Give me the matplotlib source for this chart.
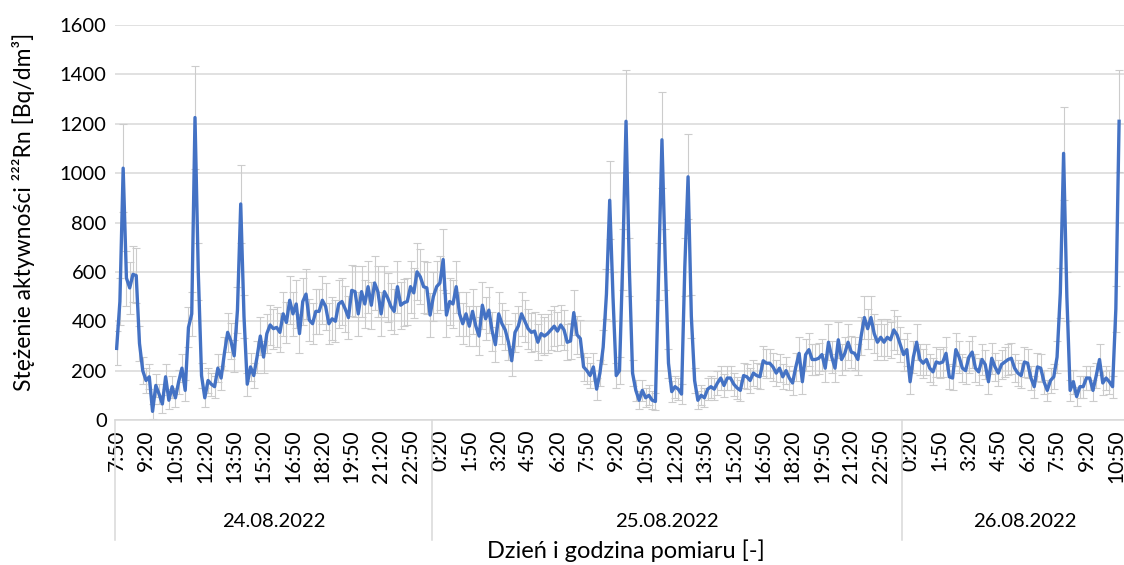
import matplotlib
matplotlib.use("Agg")
import matplotlib.pyplot as plt
from matplotlib.transforms import blended_transform_factory

plt.rcParams["font.family"] = ["Lato", "DejaVu Sans"]

# 222Rn activity concentration, 10-minute readings [Bq/dm3]
day1_vals = [290, 480, 1020, 575, 535, 590, 585, 310, 200, 160,
             175, 35, 140, 105, 65, 175, 80, 135, 90, 155,
             210, 120, 375, 430, 1225, 600, 180, 90, 160, 145,
             135, 210, 170, 270, 355, 320, 260, 445, 875, 420,
             145, 215, 180, 255, 340, 255, 350, 385, 370, 375,
             355, 430, 395, 485, 430, 470, 350, 480, 510, 405,
             390, 440, 440, 485, 460, 390, 410, 400, 470, 480,
             450, 415, 525, 520, 430, 520, 470, 540, 465, 555,
             520, 430, 520, 495, 460, 440, 540, 465, 475, 480,
             540, 515, 600, 580, 540, 535, 425]
day2_vals = [500, 540, 555, 650, 425, 480, 470, 540, 430, 390,
             430, 380, 440, 380, 340, 465, 410, 445, 360, 305,
             430, 390, 365, 315, 240, 355, 380, 430, 400, 370,
             355, 360, 315, 350, 340, 350, 365, 380, 360, 385,
             365, 315, 320, 435, 345, 330, 215, 200, 180, 215,
             125, 190, 295, 510, 890, 500, 180, 200, 650, 1210,
             620, 190, 120, 80, 120, 90, 100, 80, 75, 600,
             1135, 650, 230, 115, 135, 125, 105, 620, 985, 420,
             160, 80, 100, 90, 125, 135, 125, 150, 170, 140,
             170, 170, 145, 130, 120, 180, 175, 160, 190, 180,
             175, 240, 230, 230, 215, 190, 210, 175, 200, 170,
             150, 215, 270, 155, 265, 285, 245, 245, 250, 265,
             210, 315, 255, 210, 325, 245, 270, 315, 275, 270,
             245, 340, 415, 370, 415, 350, 315, 335, 315, 335,
             325, 365, 345, 305]
day3_vals = [265, 285, 155, 255, 315, 245, 230, 245, 210, 195,
             235, 230, 235, 270, 175, 170, 285, 255, 210, 200,
             255, 275, 210, 195, 245, 225, 155, 250, 215, 190,
             225, 235, 245, 250, 210, 190, 180, 235, 230, 170,
             135, 215, 210, 155, 120, 160, 175, 255, 515, 1080,
             500, 120, 155, 95, 135, 135, 170, 170, 120, 180,
             245, 150, 170, 155, 135, 450, 1210]

days = ["24.08.2022", "25.08.2022", "26.08.2022"]
ticks_day1 = ["7:50", "9:20", "10:50", "12:20", "13:50", "15:20", "16:50",
              "18:20", "19:50", "21:20", "22:50"]
ticks_day2 = ["0:20", "1:50", "3:20", "4:50", "6:20", "7:50", "9:20", "10:50",
              "12:20", "13:50", "15:20", "16:50", "18:20", "19:50", "21:20", "22:50"]
ticks_day3 = ["0:20", "1:50", "3:20", "4:50", "6:20", "7:50", "9:20", "10:50"]

# error bars as measured off the chart: ~15 % of the reading plus a constant
ERR_REL = 0.15
ERR_ABS = 25

values = day1_vals + day2_vals + day3_vals
x = list(range(len(values)))
yerr = [ERR_REL * v + ERR_ABS for v in values]
tick_labels = ticks_day1 + ticks_day2 + ticks_day3
tick_pos = [9 * k for k in range(len(tick_labels))]

W, H = 1124, 565
fig = plt.figure(figsize=(W / 100, H / 100), dpi=100)
ax = fig.add_axes([115 / W, (H - 420) / H, (W - 115) / W, 395 / H])

grid_c = "#d9d9d9"
ax.errorbar(x, values, yerr=yerr, fmt="none", ecolor="#cccccc",
            elinewidth=0.8, capsize=2.8, capthick=0.8, zorder=2)
ax.plot(x, values, color="#4472c4", lw=2.4, zorder=3, solid_joinstyle="round")

ax.set_ylim(0, 1600)
ax.set_yticks(range(0, 1601, 200))
ax.set_xlim(-0.5, 308.5)
ax.set_xticks(tick_pos)
ax.set_xticklabels(tick_labels, rotation=90, va="top", ha="center")
ax.tick_params(axis="both", length=0, colors="black")
ax.tick_params(axis="y", pad=6, labelsize=14.5)
ax.tick_params(axis="x", pad=7, labelsize=15)
ax.yaxis.grid(True, color=grid_c, lw=1.1)
ax.set_axisbelow(True)
for s in ["top", "right", "left"]:
    ax.spines[s].set_visible(False)
ax.spines["bottom"].set_color(grid_c)
ax.spines["bottom"].set_linewidth(1.1)

# day groups below the time labels
tr = blended_transform_factory(ax.transData, ax.transAxes)
n1, n2 = len(day1_vals), len(day2_vals)
bounds = [-0.5, n1 - 0.5, n1 + n2 - 0.5]
for b in bounds:
    ax.plot([b, b], [0, -0.305], transform=tr, color=grid_c, lw=1.1, clip_on=False)
label_x = [(n1 - 1) / 2, n1 + (n2 - 1) / 2, 278]
for lx, d in zip(label_x, days):
    ax.text(lx, -0.256, d, transform=tr, ha="center", va="center", fontsize=14.6)

fig.text(626 / W, (H - 551) / H, "Dzień i godzina pomiaru [-]",
         ha="center", va="center", fontsize=17)
fig.text(24 / W, (H - 212) / H, "Stężenie aktywności ²²²Rn [Bq/dm³]",
         ha="center", va="center", rotation=90, fontsize=16.5)

fig.savefig("out.png", dpi=100)
